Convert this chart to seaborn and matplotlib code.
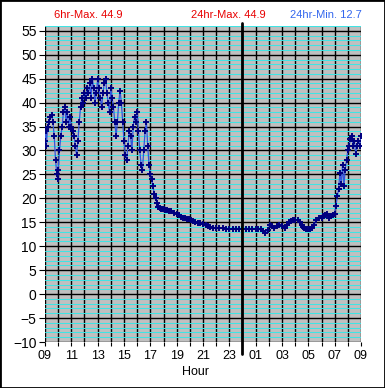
import matplotlib
matplotlib.use("Agg")
import matplotlib.pyplot as plt
import seaborn as sns
import numpy as np
from matplotlib.ticker import MultipleLocator
from matplotlib.patches import Rectangle

# hours since 09:00 of day 1 (24 = midnight), temperatures
hours = [9.0, 9.05, 9.1, 9.2, 9.3, 9.4, 9.5, 9.6, 9.7, 9.8, 9.9, 9.95,
         10.0, 10.1, 10.2, 10.3, 10.4, 10.5, 10.6, 10.7, 10.8, 10.9,
         11.0, 11.1, 11.2, 11.3, 11.4, 11.5, 11.6, 11.7, 11.8, 11.9,
         12.0, 12.1, 12.2, 12.3, 12.4, 12.5, 12.6, 12.7, 12.8, 12.9,
         13.0, 13.1, 13.2, 13.3, 13.4, 13.5, 13.6, 13.7, 13.8, 13.9,
         14.0, 14.1, 14.2, 14.3, 14.4, 14.5, 14.6, 14.7, 14.8, 14.9,
         15.0, 15.1, 15.2, 15.3, 15.4, 15.5, 15.6, 15.7, 15.8, 15.9,
         16.0, 16.1, 16.2, 16.3, 16.4, 16.5, 16.6, 16.7, 16.8, 16.9,
         17.0, 17.1, 17.2, 17.3, 17.4, 17.5, 17.6, 17.7, 17.8, 17.9,
         18.0, 18.15, 18.3, 18.45, 18.6, 18.8, 19.0, 19.15, 19.3, 19.5,
         19.65, 19.8, 19.95, 20.1, 20.25, 20.4, 20.6, 20.8, 21.0, 21.2,
         21.35, 21.5, 21.75, 22.0, 22.25, 22.5, 22.75, 23.0, 23.25, 23.5,
         23.75, 24.0, 24.25, 24.5, 24.75, 25.0, 25.2, 25.4, 25.55, 25.7,
         25.9, 26.1, 26.25, 26.4, 26.6, 26.8, 27.0, 27.2, 27.35, 27.5,
         27.65, 27.8, 28.0, 28.2, 28.35, 28.5, 28.6, 28.7, 28.85, 29.0,
         29.15, 29.3, 29.45, 29.6, 29.8, 30.0, 30.15, 30.3, 30.45, 30.6,
         30.75, 30.9, 31.0, 31.1, 31.2, 31.3, 31.4, 31.5, 31.6, 31.7,
         31.8, 31.9, 32.0, 32.1, 32.2, 32.3, 32.4, 32.5, 32.6, 32.7,
         32.8, 32.9, 33.0]
temps = [32, 34, 31, 35, 36, 37, 37.5, 36, 33, 28, 25, 24,
         26, 30, 33, 35, 38, 39, 36, 38, 35, 37,
         35, 34, 33, 31, 29, 32, 36, 39, 41, 40,
         42, 41, 43, 42, 44, 41, 45, 43, 40, 42,
         44.9, 43, 41, 39, 42, 44, 45, 42, 40, 38,
         43, 41, 39, 36, 33, 36, 40, 42.5, 40, 36,
         32, 29, 28, 31, 34, 33, 30, 35, 37, 36,
         38, 34, 30, 27, 26, 30, 34, 36, 31, 27,
         25, 24, 22.5, 21, 20, 19, 18.3, 18.0, 17.8, 17.7,
         17.7, 17.6, 17.5, 17.4, 17.3, 17.0, 16.7, 16.5, 16.2, 16.0,
         15.9, 15.7, 15.6, 15.4, 15.2, 15.0, 14.9, 14.8, 14.7, 14.5,
         14.3, 14.0, 13.9, 13.9, 13.8, 13.8, 13.7, 13.7, 13.7, 13.7,
         13.6, 13.6, 13.6, 13.6, 13.6, 13.6, 13.5, 13.5, 13.2, 12.7,
         13.4, 14.5, 14.2, 13.9, 14.2, 14.5, 14.2, 13.9, 14.5, 15.0,
         15.3, 15.4, 15.5, 15.4, 15.0, 14.5, 14.0, 13.8, 13.6, 13.6,
         13.7, 13.8, 14.5, 15.5, 15.8, 16.0, 16.3, 16.6, 16.8, 16.0,
         16.3, 16.5, 16.8, 18.5, 20.4, 22, 25.4, 23, 27, 22.5,
         26, 28, 30, 31, 32.4, 33, 31, 32, 29.2, 31,
         32, 31, 33]

xtick_pos = list(range(9, 34, 2))
xtick_lbl = ["09", "11", "13", "15", "17", "19", "21", "23",
             "01", "03", "05", "07", "09"]
ytick_pos = list(range(-10, 56, 5))

sns.set_theme(style="white")
plt.rcParams["font.family"] = ["Liberation Sans", "DejaVu Sans"]

fig = plt.figure(figsize=(3.85, 3.88), dpi=100)
ax = fig.add_axes([45 / 385, 1 - 342 / 388, 316 / 385, 316 / 388])
ax.set_facecolor("#c0c0c0")

ax.set_xlim(9, 33)
ax.set_ylim(-10, 56)

ax.set_yticks(ytick_pos)
ax.yaxis.set_minor_locator(MultipleLocator(1))
ax.set_xticks(xtick_pos)
ax.set_xticklabels(xtick_lbl)
ax.xaxis.set_minor_locator(MultipleLocator(1))

ax.grid(which="minor", axis="y", color="#40e4e4", lw=0.75, zorder=0)
ax.grid(which="major", axis="y", color="black", lw=1.0, zorder=1)
ax.grid(which="both", axis="x", color="black", lw=1.0, zorder=1)
ax.set_axisbelow(True)

for s in ax.spines.values():
    s.set_visible(False)

ax.tick_params(axis="y", which="major", left=True, length=4, width=0.8,
               color="black", labelsize=10, pad=2, labelcolor="black")
ax.tick_params(axis="y", which="minor", length=0)
ax.tick_params(axis="x", which="both", bottom=True, length=3, width=0.8,
               color="black", labelsize=9, pad=3, labelcolor="black")

sns.lineplot(x=hours, y=temps, ax=ax, color="#3355dd", lw=0.9,
             marker="+", markersize=4.5, markeredgecolor="#000080",
             markeredgewidth=1.4, zorder=3)

ax.axvline(24, ymin=-0.038, ymax=1.01, color="black", lw=2.0,
           clip_on=False, zorder=4)

ax.set_xlabel("")
ax.set_ylabel("")
fig.text(196 / 385, 1 - 372 / 388, "Hour", ha="center", va="center",
         fontsize=9, color="black")

fig.text(88 / 385, 1 - 15 / 388, "6hr-Max. 44.9", ha="center",
         va="center", fontsize=8, color="#e80000")
fig.text(228 / 385, 1 - 15 / 388, "24hr-Max. 44.9", ha="center",
         va="center", fontsize=8, color="#e80000")
fig.text(326 / 385, 1 - 15 / 388, "24hr-Min. 12.7", ha="center",
         va="center", fontsize=8, color="#3366ee")

fig.add_artist(Rectangle((0, 0), 1, 1, transform=fig.transFigure,
                         fill=False, ec="black", lw=2))

fig.savefig("out.png", dpi=100)
